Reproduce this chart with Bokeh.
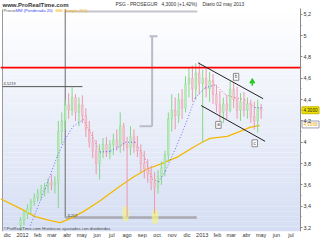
import pandas as pd
from bokeh.plotting import figure
from bokeh.models import Range1d, FixedTicker, CustomJSTickFormatter
from bokeh.core.properties import value
from bokeh.embed import file_html
from bokeh.resources import INLINE

ORIGIN = pd.Timestamp("2012-01-01")


def days(s):
    return list((pd.to_datetime(pd.Series(s)) - ORIGIN) / pd.Timedelta(days=1))


# ---------------- data ----------------
week_dates = list(pd.date_range("2011-12-28", periods=71, freq="7D").strftime("%Y-%m-%d"))
opens = [3.22, 3.27, 3.33, 3.38, 3.44, 3.48, 3.52, 3.55, 3.58, 3.62, 3.60, 3.62, 4.10, 4.20, 4.35,
         4.30, 4.42, 4.28, 4.35, 4.25, 4.12, 4.00, 3.92, 3.80, 3.92, 3.98, 3.90, 3.98, 4.02, 3.96,
         4.15, 3.98, 3.95, 4.05, 3.96, 3.92, 3.80, 3.75, 3.70, 3.62, 3.58, 3.68, 3.76, 3.88, 4.22,
         4.30, 4.25, 4.40, 4.32, 4.55, 4.60, 4.50, 4.65, 4.55, 4.60, 4.50, 4.58, 4.45, 4.35, 4.28,
         4.36, 4.30, 4.50, 4.40, 4.30, 4.38, 4.30, 4.36, 4.24, 4.20, 4.32]
highs = [3.30, 3.36, 3.42, 3.47, 3.52, 3.56, 3.60, 3.62, 3.66, 3.70, 3.68, 4.20, 4.28, 4.40, 4.46,
         4.52, 4.45, 4.42, 4.44, 4.32, 4.20, 4.10, 4.02, 3.98, 4.04, 4.05, 4.02, 4.08, 4.12, 4.28,
         4.18, 4.05, 4.15, 4.12, 4.06, 3.98, 3.92, 3.84, 3.78, 3.72, 3.74, 3.82, 3.92, 4.28, 4.45,
         4.42, 4.46, 4.50, 4.62, 4.70, 4.72, 4.74, 4.75, 4.68, 4.70, 4.66, 4.64, 4.54, 4.48, 4.42,
         4.44, 4.57, 4.56, 4.52, 4.46, 4.47, 4.42, 4.40, 4.38, 4.40, 4.36]
lows = [3.17, 3.22, 3.28, 3.33, 3.40, 3.44, 3.46, 3.49, 3.52, 3.55, 3.52, 3.38, 3.98, 4.12, 4.22,
        4.25, 4.20, 4.15, 4.18, 4.05, 3.95, 3.85, 3.70, 3.65, 3.85, 3.86, 3.84, 3.88, 3.92, 3.90,
        3.92, 3.30, 3.88, 3.90, 3.86, 3.72, 3.66, 3.62, 3.55, 3.33, 3.52, 3.60, 3.68, 3.82, 4.10,
        4.12, 4.18, 4.22, 4.28, 4.42, 4.38, 4.40, 4.45, 4.00, 4.42, 4.38, 4.36, 4.28, 4.20, 4.18,
        4.22, 4.28, 4.32, 4.22, 4.20, 4.24, 4.22, 4.18, 4.12, 4.09, 4.22]
closes = [3.27, 3.33, 3.38, 3.44, 3.48, 3.52, 3.55, 3.58, 3.62, 3.60, 3.62, 4.10, 4.20, 4.35, 4.30,
          4.42, 4.28, 4.35, 4.25, 4.12, 4.00, 3.92, 3.80, 3.92, 3.98, 3.90, 3.98, 4.02, 3.96, 4.15,
          3.98, 3.95, 4.05, 3.96, 3.92, 3.80, 3.75, 3.70, 3.62, 3.58, 3.68, 3.76, 3.88, 4.22, 4.30,
          4.25, 4.40, 4.32, 4.55, 4.60, 4.50, 4.65, 4.55, 4.60, 4.50, 4.58, 4.45, 4.35, 4.28, 4.36,
          4.30, 4.50, 4.40, 4.30, 4.38, 4.30, 4.36, 4.24, 4.20, 4.32, 4.30]

sma_dates = ["2011-11-17", "2011-12-28", "2012-01-27", "2012-02-27", "2012-03-18", "2012-04-07",
             "2012-05-04", "2012-06-07", "2012-07-18", "2012-08-14", "2012-09-11", "2012-10-08",
             "2012-11-11", "2012-12-14", "2013-01-01", "2013-01-17", "2013-02-21", "2013-03-19",
             "2013-04-08", "2013-04-28"]
sma_values = [3.470, 3.377, 3.302, 3.265, 3.246, 3.284, 3.349, 3.451, 3.590, 3.674, 3.749, 3.795,
              3.860, 3.953, 4.000, 4.037, 4.056, 4.102, 4.139, 4.158]

wma_dates = ["2012-01-17", "2012-02-16", "2012-03-12", "2012-03-28", "2012-04-13", "2012-05-04",
             "2012-05-18", "2012-06-07", "2012-06-28", "2012-07-14", "2012-07-28", "2012-08-18",
             "2012-09-07", "2012-09-21", "2012-10-04", "2012-10-18", "2012-11-07", "2012-11-28",
             "2012-12-18", "2013-01-07", "2013-01-28", "2013-02-17", "2013-03-09", "2013-03-29",
             "2013-04-18", "2013-05-02"]
wma_values = [3.218, 3.563, 3.870, 4.028, 4.149, 4.214, 4.093, 3.907, 3.916, 3.953, 4.000, 4.000,
              3.842, 3.656, 3.628, 3.730, 3.935, 4.167, 4.418, 4.511, 4.539, 4.446, 4.418, 4.400,
              4.325, 4.325]

month_starts = ["2011-12-01", "2012-01-01", "2012-02-01", "2012-03-01", "2012-04-01", "2012-05-01",
                "2012-06-01", "2012-07-01", "2012-08-01", "2012-09-01", "2012-10-01", "2012-11-01",
                "2012-12-01", "2013-01-01", "2013-02-01", "2013-03-01", "2013-04-01", "2013-05-01",
                "2013-06-01", "2013-07-01"]
month_labels = ["dic", "2012", "feb", "mar", "abr", "may", "jun", "jul", "ago", "sep", "oct", "nov",
                "dic", "2013", "feb", "mar", "abr", "may", "jun", "jul"]
price_ticks = [3.2, 3.4, 3.6, 3.8, 4.0, 4.2, 4.4, 4.6, 4.8, 5.0, 5.2]

last_close = 4.30
last_sma = 4.1668
resistance = 4.70
level_4_5219 = 4.5219
level_3_207 = 3.293
channel_upper = (["2012-12-24", "2013-05-05"], [4.744, 4.409])
channel_lower = (["2012-12-30", "2013-05-09"], [4.344, 4.009])

# ---------------- layout helpers (pixel -> data for annotations) ----------------
PXD = 0.491          # pixels per day
PXV = 107.5          # pixels per price unit
X0 = 22.0            # pixel of 2012-01-01
VTOP = 5.330         # price at canvas top


def X(px):
    return (px - X0) / PXD


def Y(py):
    return VTOP - py / PXV


FONT = value("Liberation Sans")

p = figure(width=320, height=240, output_backend="svg", toolbar_location=None,
           x_range=Range1d(X(0), X(320)), y_range=Range1d(Y(233), Y(0)),
           y_axis_location="right", min_border_left=0, min_border_top=0,
           min_border_right=0, min_border_bottom=7)
p.outline_line_color = None
p.grid.visible = False
p.background_fill_color = "white"
p.border_fill_color = "white"

# background gradient (style)
n_bands = 45
top_c = (255, 255, 255)
bot_c = (213, 222, 243)
ytop, ybot = Y(9), Y(233)
bt, bb, bc = [], [], []
for i in range(n_bands):
    t0 = ytop - (ytop - ybot) * i / n_bands
    t1 = ytop - (ytop - ybot) * (i + 1) / n_bands
    f = (i + 0.5) / n_bands
    c = tuple(int(round(top_c[j] + (bot_c[j] - top_c[j]) * f)) for j in range(3))
    bt.append(t0)
    bb.append(t1)
    bc.append("#%02x%02x%02x" % c)
p.quad(left=X(2), right=X(300), top=bt, bottom=bb, fill_color=bc, line_color=None)
p.segment(x0=[X(2)], y0=[Y(9)], x1=[X(2)], y1=[Y(233)], line_color="#9a9a9a", line_width=1)

# drawing tools
p.segment(x0=days(["2012-03-28"]), y0=[Y(11)], x1=days(["2012-12-22"]), y1=[Y(11)],
          line_color="#c4c6cc", line_width=2)
p.segment(x0=days(["2012-03-28"]), y0=[Y(9)], x1=days(["2012-03-28"]), y1=[level_3_207],
          line_color="#6a6a6a", line_width=1)
p.segment(x0=days(["2012-03-28"]), y0=[level_3_207], x1=days(["2012-12-21"]), y1=[level_3_207],
          line_color="#a8a9b0", line_width=2.5)
p.segment(x0=[X(2)], y0=[level_4_5219], x1=days(["2012-05-02"]), y1=[level_4_5219],
          line_color="#555555", line_width=1)
# bracket
bx = days(["2012-09-21"])[0]
p.segment(x0=[bx, X(149), X(139)], y0=[4.995, 4.995, 4.149], x1=[bx, X(157), bx], y1=[4.149, 4.995, 4.149],
          line_color="#b9bcc6", line_width=2)
# yellow ellipses
p.ellipse(x=days(["2012-07-29", "2012-09-27"]), y=[3.330, 3.302], width=14, height=0.15,
          fill_color="#f2f28a", fill_alpha=0.75, line_color=None)

# moving averages
sx = days(sma_dates)
p.line(sx, sma_values, line_color="#f5b800", line_width=1.3)

# candles
wx = days(week_dates)
up = [c >= o for o, c in zip(opens, closes)]
wick_col = ["#86d886" if u else "#ec98aa" for u in up]
body_col = ["#c2efc2" if u else "#f8ccd5" for u in up]
p.segment(x0=wx, y0=lows, x1=wx, y1=highs, line_color=wick_col, line_width=1)
p.vbar(x=wx, width=3.2, top=[max(o, c) for o, c in zip(opens, closes)],
       bottom=[min(o, c) for o, c in zip(opens, closes)], fill_color=body_col,
       line_color=wick_col, line_width=0.5)

wx2 = days(wma_dates)
seg_col = ["#6b6bff" if wma_values[i + 1] >= wma_values[i] else "#ee7f96" for i in range(len(wma_values) - 1)]
p.segment(x0=wx2[:-1], y0=wma_values[:-1], x1=wx2[1:], y1=wma_values[1:], line_color=seg_col,
          line_width=1, line_dash="1 2")

# resistance line
p.segment(x0=[X(0)], y0=[resistance], x1=[X(300)], y1=[resistance], line_color="#ff0000", line_width=1.6)

# channel
p.segment(x0=[days(channel_upper[0])[0], days(channel_lower[0])[0]],
          y0=[channel_upper[1][0], channel_lower[1][0]],
          x1=[days(channel_upper[0])[1], days(channel_lower[0])[1]],
          y1=[channel_upper[1][1], channel_lower[1][1]], line_color="#222222", line_width=1)

# a b c markers
mk_x = days(["2013-02-03", "2013-03-11", "2013-04-18"])
mk_y = [4.163, 4.614, 3.990]
p.rect(x=mk_x, y=mk_y, width=11, height=0.065, fill_color="white", line_color="#8a8a8a", line_width=1)
p.text(x=mk_x, y=mk_y, text=["a", "b", "c"], text_font=FONT, text_font_size="4.5px",
       text_align="center", text_baseline="middle", text_color="#444444")
# green arrow
ax = days(["2013-04-13"])
p.segment(x0=ax, y0=[4.530], x1=ax, y1=[4.565], line_color="#22cc22", line_width=1.5)
p.scatter(x=ax, y=[4.570], marker="triangle", size=5, fill_color="#22cc22", line_color="#22cc22")

# texts
p.text(x=[X(3)], y=[level_4_5219 + 0.012], text=["4,5219"], text_font=FONT, text_font_size="4px",
       text_color="#444444", text_baseline="bottom")
p.text(x=[X(67)], y=[level_3_207 + 0.01], text=["3,207"], text_font=FONT, text_font_size="4px",
       text_color="#444444", text_baseline="bottom")
p.text(x=[X(2)], y=[Y(4.5)], text=["www.ProRealTime.com"], text_font=FONT, text_font_size="6px",
       text_font_style="bold", text_color="#333333", text_baseline="middle")
p.text(x=[X(115), X(161), X(202)], y=[Y(4.5)] * 3,
       text=["PSG - PROSEGUR", "4,3000 (+1,42%)", "Diario 02 may 2013"], text_font=FONT,
       text_font_size="4.8px", text_color="#333333", text_baseline="middle")
p.text(x=[X(3), X(15), X(55)], y=[Y(10.5)] * 3,
       text=["Precio", "MM (Ponderada 20)", "MM (Simple 200)"], text_font=FONT,
       text_font_size="4.2px", text_color=["#555555", "#4444ee", "#f0b000"], text_baseline="middle")
p.text(x=[X(3)], y=[Y(230)], text=["\u00a9ProRealTime.com  Hist\u00f3ricos ajustados con dividendos"],
       text_font=FONT, text_font_size="4.3px", text_color="#444444", text_baseline="middle")

# axes
ya = p.yaxis[0]
ya.fixed_location = X(300)
ya.ticker = FixedTicker(ticks=price_ticks, minor_ticks=[3.3 + 0.2 * i for i in range(10)])
ya.formatter = CustomJSTickFormatter(code="const s = (Math.round(tick*10)/10).toString(); return s.replace('.', ',');")
ya.bounds = (Y(233), Y(8))
ya.axis_line_color = "#8a8a8a"
ya.major_tick_line_color = "#8a8a8a"
ya.minor_tick_line_color = "#8a8a8a"
ya.major_tick_out = 2
ya.major_tick_in = 0
ya.minor_tick_out = 1
ya.minor_tick_in = 0
ya.major_label_standoff = 1
ya.major_label_text_font_size = "5.5px"
ya.major_label_text_font = "Liberation Sans"
ya.major_label_text_color = "#333333"

xa = p.xaxis[0]
xa.ticker = FixedTicker(ticks=days(month_starts))
xa.formatter = CustomJSTickFormatter(args=dict(mticks=days(month_starts), mlabels=month_labels),
                                     code="for (let i = 0; i < mticks.length; i++) { if (Math.abs(mticks[i]-tick) < 0.01) return mlabels[i]; } return '';")
xa.axis_line_color = None
xa.major_tick_line_color = None
xa.minor_tick_line_color = None
xa.major_tick_out = 0
xa.major_tick_in = 0
xa.major_label_standoff = 0
xa.major_label_text_font_size = "5.5px"
xa.major_label_text_font = "Liberation Sans"
xa.major_label_text_color = "#333333"

# price tags on the axis (glyphs, inside the full-width frame)
tag_x = X(310)
p.rect(x=[tag_x, tag_x], y=[last_close, last_sma], width=17 / PXD, height=7 / PXV,
       fill_color=["#f2e200", "#ffffff"], line_color=["#c9b800", "#9aa0b0"], line_width=1)
p.text(x=[tag_x, tag_x], y=[last_close, last_sma], text=["4,3000", "4,1668"], text_font=FONT,
       text_font_size="4.5px", text_align="center", text_baseline="middle",
       text_color=["#222222", "#e8a800"])

open("out.html", "w").write(file_html(p, INLINE))
